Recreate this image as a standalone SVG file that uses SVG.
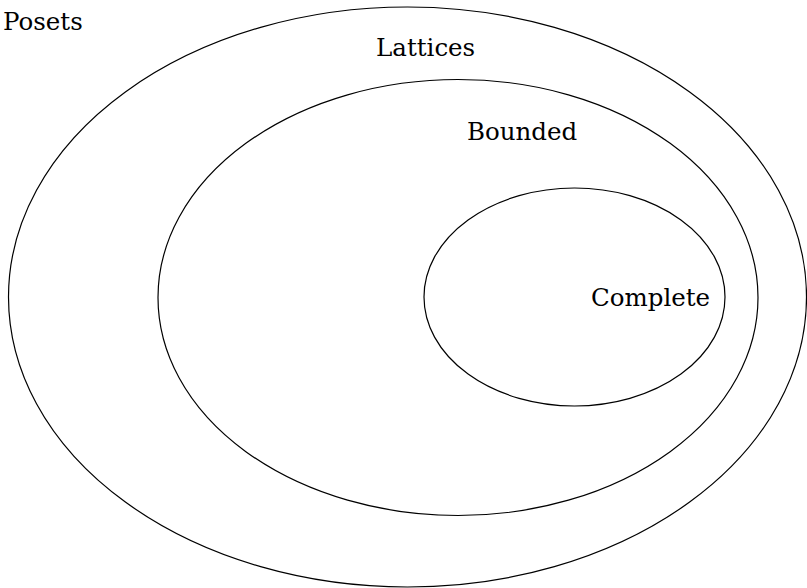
<svg xmlns="http://www.w3.org/2000/svg" width="807" height="588" viewBox="0 0 807 588">
<style>
.set{fill:none;stroke:#000;stroke-width:1.2}
.lbl{font-family:"DejaVu Serif","Liberation Serif",serif;font-size:24.5px;fill:#000}
</style>
<rect width="807" height="588" fill="#fff"/>
<g id="posets">
<ellipse class="set" cx="407.5" cy="297" rx="399" ry="290"/>
<text class="lbl" x="3" y="30">Posets</text>
</g>
<g id="lattices">
<ellipse class="set" cx="458" cy="297.5" rx="300" ry="218"/>
<text class="lbl" x="376" y="55.5">Lattices</text>
</g>
<g id="bounded">
<text class="lbl" x="467" y="139.5">Bounded</text>
</g>
<g id="complete">
<ellipse class="set" cx="574.5" cy="297" rx="150.5" ry="109"/>
<text class="lbl" x="591" y="306">Complete</text>
</g>
<g id="connectors"/>
</svg>
